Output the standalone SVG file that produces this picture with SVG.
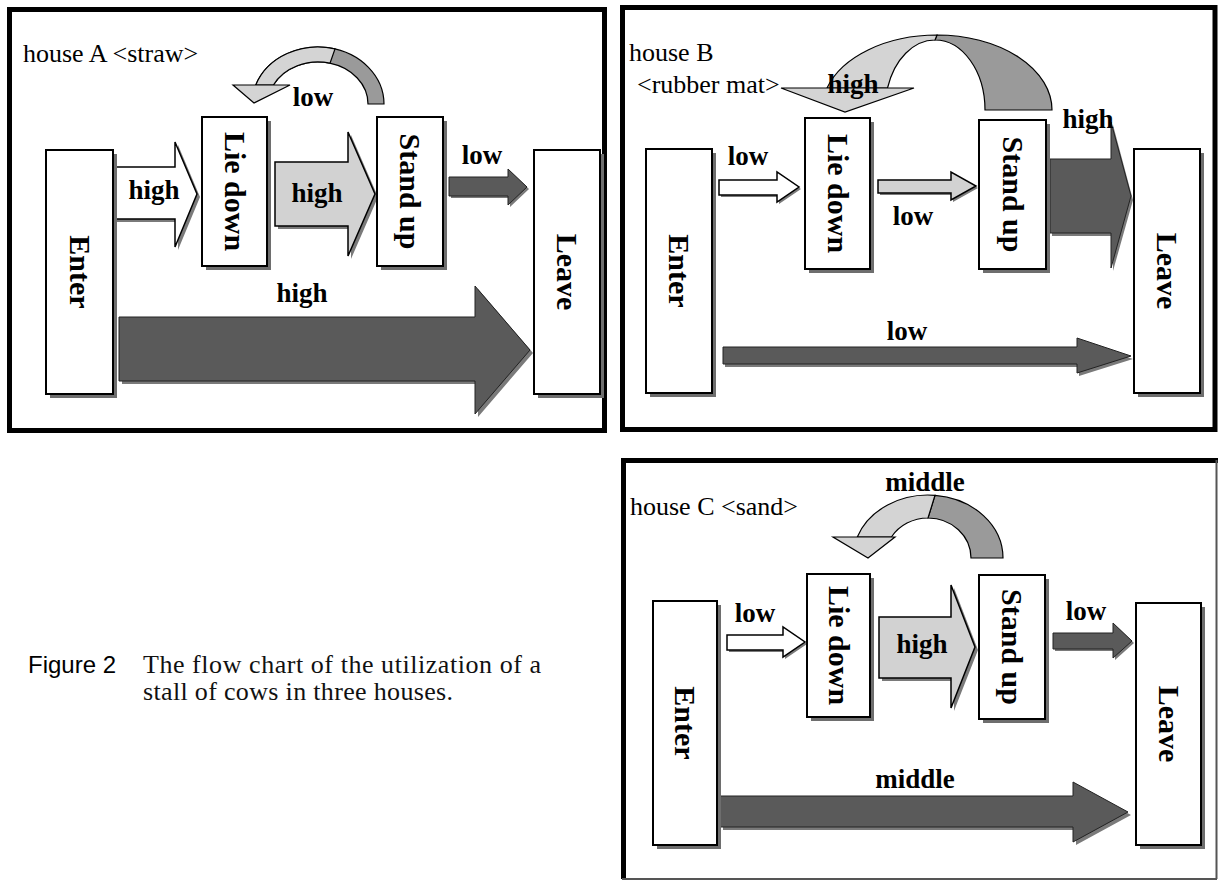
<svg xmlns="http://www.w3.org/2000/svg" width="1218" height="881" viewBox="0 0 1218 881">
<style>
.frame{fill:none;stroke:#000;stroke-width:5}
.box{fill:#fff;stroke:#000;stroke-width:2}
.bsh{fill:#6e6e6e}
.ash{fill:#7a7a7a}
.bt{font-family:"Liberation Serif",serif;font-weight:bold;font-size:30px;text-anchor:middle;fill:#000}
.lb{font-family:"Liberation Serif",serif;font-weight:bold;font-size:27px;text-anchor:middle;fill:#000}
.hd{font-family:"Liberation Serif",serif;font-size:26px;fill:#000}
.white{fill:#fff;stroke:#000;stroke-width:1.5;stroke-linejoin:miter}
.light{fill:#d2d2d2;stroke:#000;stroke-width:1.5}
.dark{fill:#5a5a5a;stroke:#222;stroke-width:1}
.cl{fill:#d4d4d4;stroke:#000;stroke-width:1.2}
.cd{fill:#9a9a9a;stroke:#000;stroke-width:1.2}
.cap{font-family:"Liberation Serif",serif;font-size:26px;fill:#111}
.fig{font-family:"Liberation Sans",sans-serif;font-size:24px;fill:#000}
</style>

<!-- ================= HOUSE A ================= -->
<g id="houseA">
  <rect class="frame" x="9.5" y="9.5" width="595" height="421"/>
  <text class="hd" x="23" y="62">house A &lt;straw&gt;</text>

  <g id="A-connectors">
    <g id="A-loop">
      <path class="cd" d="M 384,104 A 66,57 0 0 0 255.8,85 L 273.4,85 A 50,42 0 0 1 368,104 Z"/>
      <path class="cl" d="M 255.8,85 A 66,57 0 0 1 335,48.9 L 330,63.2 A 50,42 0 0 0 273.4,85 Z"/>
      <polygon class="cl" points="233,85 290,85 254,103"/>
      <text class="lb" x="313" y="106">low</text>
    </g>
    <g id="A-enter-lie">
      <polygon class="ash" points="117,170 178,170 178,145 200,197 178,250 178,222 117,222"/>
      <polygon class="white" points="114,167 175,167 175,142 197,194 175,247 175,219 114,219"/>
      <text class="lb" x="154" y="199">high</text>
    </g>
    <g id="A-lie-stand">
      <polygon class="ash" points="278,165 351,165 351,135 378,197 351,259 351,229 278,229"/>
      <polygon class="light" points="275,162 348,162 348,132 375,194 348,256 348,226 275,226"/>
      <text class="lb" x="317" y="202">high</text>
    </g>
    <g id="A-stand-leave">
      <polygon class="ash" points="451,179 510,179 510,171 529,189 510,207 510,198 451,198"/>
      <polygon class="dark" points="449,177 508,177 508,169 527,187 508,205 508,196 449,196"/>
      <text class="lb" x="482" y="164">low</text>
    </g>
    <g id="A-enter-leave">
      <polygon class="ash" points="122,320 478,320 478,289 533,353 478,417 478,384 122,384"/>
      <polygon class="dark" points="119,317 475,317 475,286 530,350 475,414 475,381 119,381"/>
      <text class="lb" x="302" y="302">high</text>
    </g>
  </g>

  <g id="A-enter">
    <rect class="bsh" x="50" y="154" width="67" height="244"/>
    <rect class="box" x="46" y="150" width="67" height="244"/>
    <text class="bt" transform="translate(79.5,272) rotate(90)" y="10">Enter</text>
  </g>
  <g id="A-liedown">
    <rect class="bsh" x="206" y="121" width="65" height="149"/>
    <rect class="box" x="202" y="117" width="65" height="149"/>
    <text class="bt" transform="translate(234.5,191.5) rotate(90)" y="10">Lie down</text>
  </g>
  <g id="A-standup">
    <rect class="bsh" x="381" y="121" width="66" height="149"/>
    <rect class="box" x="377" y="117" width="66" height="149"/>
    <text class="bt" transform="translate(410,191.5) rotate(90)" y="10">Stand up</text>
  </g>
  <g id="A-leave">
    <rect class="bsh" x="538" y="154" width="66" height="244"/>
    <rect class="box" x="534" y="150" width="66" height="244"/>
    <text class="bt" transform="translate(567,272) rotate(90)" y="10">Leave</text>
  </g>
</g>

<!-- ================= HOUSE B ================= -->
<g id="houseB">
  <rect class="frame" x="622.5" y="7.5" width="592.5" height="422"/>
  <text class="hd" x="629" y="61">house B</text>
  <text class="hd" x="637" y="93">&lt;rubber mat&gt;</text>

  <g id="B-connectors">
    <g id="B-loop">
      <path class="cd" d="M 937,35 A 115,75 0 0 1 1052,110 L 985,110 A 50,70 0 0 0 935,40 Z"/>
      <path class="cl" d="M 827,88 A 115,75 0 0 1 937,35 L 935,40 A 50,70 0 0 0 887.5,88 Z"/>
      <polygon class="cl" points="781,88 914,88 845,112"/>
      <text class="lb" x="853" y="93">high</text>
    </g>
    <g id="B-enter-lie">
      <polygon class="ash" points="721,182 779,182 779,174 801,189 779,204 779,197 721,197"/>
      <polygon class="white" points="719,180 777,180 777,172 799,187 777,202 777,195 719,195"/>
      <text class="lb" x="748" y="165">low</text>
    </g>
    <g id="B-lie-stand">
      <polygon class="ash" points="880,182 953,182 953,174 978,188 953,202 953,195 880,195"/>
      <polygon class="light" points="878,180 951,180 951,172 976,186 951,200 951,193 878,193"/>
      <text class="lb" x="913" y="225">low</text>
    </g>
    <g id="B-stand-leave">
      <polygon class="ash" points="1052,162 1113,162 1113,125 1133,200 1113,271 1113,236 1052,236"/>
      <polygon class="dark" points="1050,159 1111,159 1111,122 1131,196 1111,268 1111,233 1050,233"/>
      <text class="lb" x="1088" y="128">high</text>
    </g>
    <g id="B-enter-leave">
      <polygon class="ash" points="725,350 1079,350 1079,341 1133,359 1079,376 1079,367 725,367"/>
      <polygon class="dark" points="723,347 1077,347 1077,338 1131,356 1077,373 1077,364 723,364"/>
      <text class="lb" x="907" y="340">low</text>
    </g>
  </g>

  <g id="B-enter">
    <rect class="bsh" x="650" y="153" width="66" height="244"/>
    <rect class="box" x="646" y="149" width="66" height="244"/>
    <text class="bt" transform="translate(679,271) rotate(90)" y="10">Enter</text>
  </g>
  <g id="B-liedown">
    <rect class="bsh" x="809" y="122" width="65" height="151"/>
    <rect class="box" x="805" y="118" width="65" height="151"/>
    <text class="bt" transform="translate(837.5,193.5) rotate(90)" y="10">Lie down</text>
  </g>
  <g id="B-standup">
    <rect class="bsh" x="983" y="124" width="67" height="149"/>
    <rect class="box" x="979" y="120" width="67" height="149"/>
    <text class="bt" transform="translate(1012.5,194.5) rotate(90)" y="10">Stand up</text>
  </g>
  <g id="B-leave">
    <rect class="bsh" x="1138" y="153" width="66" height="244"/>
    <rect class="box" x="1134" y="149" width="66" height="244"/>
    <text class="bt" transform="translate(1167,271) rotate(90)" y="10">Leave</text>
  </g>
</g>

<!-- ================= HOUSE C ================= -->
<g id="houseC">
  <path d="M 623.5,879 V 460.5 H 1218" fill="none" stroke="#000" stroke-width="5"/>
  <path d="M 1216.5,460 V 879 M 622,879 H 1217" fill="none" stroke="#555" stroke-width="2"/>
  <text class="hd" x="630" y="515">house C &lt;sand&gt;</text>

  <g id="C-connectors">
    <g id="C-loop">
      <path class="cd" d="M 935,495.3 A 75,63 0 0 1 1003,558 L 971,558 A 43,40 0 0 0 928,518 Z"/>
      <path class="cl" d="M 857.3,537 A 75,63 0 0 1 935,495.3 L 928,518 A 43,40 0 0 0 891.4,537 Z"/>
      <polygon class="cl" points="833,537 895,537 868,558"/>
      <text class="lb" x="925" y="491">middle</text>
    </g>
    <g id="C-enter-lie">
      <polygon class="ash" points="729,637 785,637 785,629 807,644 785,659 785,652 729,652"/>
      <polygon class="white" points="727,635 783,635 783,627 805,642 783,657 783,650 727,650"/>
      <text class="lb" x="755" y="622">low</text>
    </g>
    <g id="C-lie-stand">
      <polygon class="ash" points="882,620 954,620 954,588 978,650 954,711 954,681 882,681"/>
      <polygon class="light" points="879,617 951,617 951,585 975,647 951,708 951,678 879,678"/>
      <text class="lb" x="922" y="653">high</text>
    </g>
    <g id="C-stand-leave">
      <polygon class="ash" points="1055,635 1115,635 1115,625 1134,643 1115,660 1115,651 1055,651"/>
      <polygon class="dark" points="1053,633 1113,633 1113,623 1132,641 1113,658 1113,649 1053,649"/>
      <text class="lb" x="1086" y="620">low</text>
    </g>
    <g id="C-enter-leave">
      <polygon class="ash" points="723,799 1076,799 1076,785 1131,815 1076,845 1076,830 723,830"/>
      <polygon class="dark" points="720,796 1073,796 1073,782 1128,812 1073,842 1073,827 720,827"/>
      <text class="lb" x="915" y="788">middle</text>
    </g>
  </g>

  <g id="C-enter">
    <rect class="bsh" x="657" y="605" width="64" height="244"/>
    <rect class="box" x="653" y="601" width="64" height="244"/>
    <text class="bt" transform="translate(685,723) rotate(90)" y="10">Enter</text>
  </g>
  <g id="C-liedown">
    <rect class="bsh" x="811" y="578" width="63" height="143"/>
    <rect class="box" x="807" y="574" width="63" height="143"/>
    <text class="bt" transform="translate(838.5,645.5) rotate(90)" y="10">Lie down</text>
  </g>
  <g id="C-standup">
    <rect class="bsh" x="983" y="579" width="66" height="144"/>
    <rect class="box" x="979" y="575" width="66" height="144"/>
    <text class="bt" transform="translate(1012,647) rotate(90)" y="10">Stand up</text>
  </g>
  <g id="C-leave">
    <rect class="bsh" x="1140" y="607" width="65" height="242"/>
    <rect class="box" x="1136" y="603" width="65" height="242"/>
    <text class="bt" transform="translate(1168.5,724) rotate(90)" y="10">Leave</text>
  </g>
</g>

<!-- ================= CAPTION ================= -->
<g id="caption">
  <text class="fig" x="28" y="673">Figure 2</text>
  <text class="cap" x="143" y="673" textLength="398" lengthAdjust="spacing">The flow chart of the utilization of a</text>
  <text class="cap" x="143" y="700" textLength="310" lengthAdjust="spacing">stall of cows in three houses.</text>
</g>
</svg>
